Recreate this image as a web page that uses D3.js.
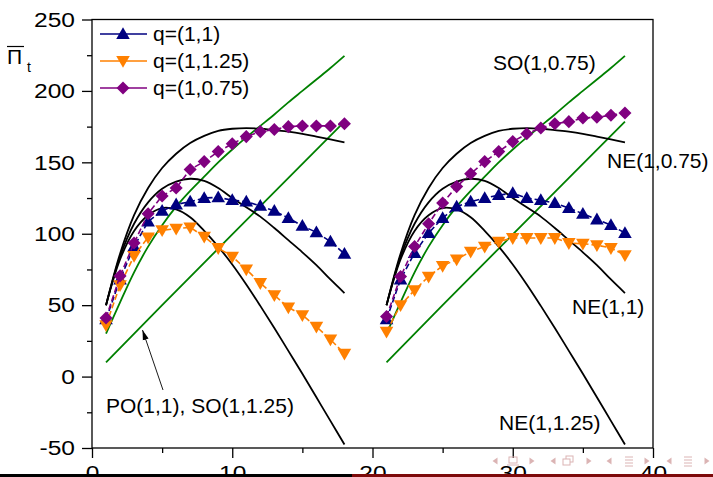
<!DOCTYPE html>
<html>
<head>
<meta charset="UTF-8">
<script src="https://cdn.jsdelivr.net/npm/d3@7"></script>
<style>
    body { margin: 0; background: #fff; }
    svg { display: block; font-family: "Liberation Sans", Arial, sans-serif; }
</style>
</head>
<body>
<div id="chart"></div>
<script>
    // periods of the two games
    var periodsA = [1, 2, 3, 4, 5, 6, 7, 8, 9, 10, 11, 12, 13, 14, 15, 16, 17, 18];
    var periodsB = [21, 22, 23, 24, 25, 26, 27, 28, 29, 30, 31, 32, 33, 34, 35, 36, 37, 38];

    // simulated profits
    var q11A   = [40, 68, 91, 108.5, 116, 120.5, 122.5, 125, 125.5, 123.5, 122.5, 119.5, 116, 111, 105.5, 101, 94.5, 86];
    var q11B   = [40, 68, 86.5, 100.5, 111, 119, 122.5, 125, 127, 128.5, 125, 123.5, 121.5, 118, 114, 110, 106, 100.5];
    var q125A  = [36, 64, 84.5, 97.5, 102.5, 103.5, 104.5, 98, 90, 84, 75, 65.5, 57, 48.5, 43, 35, 26, 16];
    var q125B  = [31.5, 50, 60.5, 70, 77.5, 82, 87.5, 91, 94.5, 97, 97, 97, 97, 93.5, 93, 92, 90, 85];
    var q075A  = [41, 70.5, 93.5, 114, 126.5, 132, 145, 150.5, 157.5, 163, 168, 171.5, 173, 175, 175.5, 175.5, 175.5, 177];
    var q075B  = [42, 70, 91, 107, 121.5, 133, 142, 150.5, 157.5, 164.5, 170, 174, 177, 178.5, 181, 181.5, 183, 184.5];

    // theoretical paths (same in both games)
    var ne075 = [50, 86, 113, 132, 146, 156, 163.5, 168.5, 172, 173.5, 174, 173.5, 172.5, 171.5, 170, 168, 166, 164];
    var ne1   = [50, 84, 107, 122, 131.5, 136.5, 138.5, 137, 132, 125, 118.5, 112, 104, 95.5, 87, 78, 68, 58.5];
    var ne125 = [50, 82, 102, 113, 118, 117, 111.5, 102, 91, 78.5, 64.5, 49.5, 34, 18, 2, -14.5, -31, -47.5];
    var so075 = [30, 52, 73, 91, 106, 119, 130, 140, 150, 159, 167.5, 175.5, 183.5, 192, 200, 208, 216, 224.5];
    var poPeriods = [1, 5, 10, 15, 18];
    var po11  = [10, 50, 99.5, 149, 178.5];

    var yTicks = [-50, 0, 50, 100, 150, 200, 250];
    var yMinorTicks = [-25, 25, 75, 125, 175, 225];
    var xTicks = [0, 10, 20, 30, 40];
    var xMinorTicks = [5, 15, 25, 35];

    var legendNames = ["q=(1,1)", "q=(1,1.25)", "q=(1,0.75)"];
    var navy = "#000080", orange = "#ff8000", purple = "#800080", green = "#008000";

    var width = 713, height = 477;
    var x = d3.scaleLinear().domain([0, 40]).range([92, 653]);
    var y = d3.scaleLinear().domain([-50, 250]).range([448, 19.5]);
    var stretch = 1.17;

    var svg = d3.select("#chart").append("svg")
        .attr("width", width).attr("height", height);

    svg.append("defs").append("marker")
        .attr("id", "arrowhead")
        .attr("viewBox", "0 -4 10 8")
        .attr("refX", 10).attr("refY", 0)
        .attr("markerWidth", 10).attr("markerHeight", 8)
        .attr("markerUnits", "userSpaceOnUse")
        .attr("orient", "auto")
        .append("path").attr("d", "M0,-3L10,0L0,3Z").attr("fill", "#000");

    // axes
    function styleAxis(g) {
        g.select(".domain").remove();
        g.selectAll("line").attr("stroke", "#000").attr("stroke-width", 1.3);
        g.selectAll("text").attr("font-size", 21).attr("fill", "#000")
            .attr("font-family", "Liberation Sans, Arial, sans-serif");
    }
    var plain = function (d) { return String(d); };

    svg.append("g").attr("transform", "translate(92,0)")
        .call(d3.axisLeft(y).tickValues(yMinorTicks).tickSize(5).tickFormat(""))
        .call(styleAxis);
    svg.append("g").attr("transform", "translate(92,0)")
        .call(d3.axisLeft(y).tickValues(yTicks).tickSize(10).tickPadding(7).tickFormat(plain))
        .call(styleAxis)
        .selectAll("text")
        .attr("x", -17 / stretch)
        .attr("transform", "scale(" + stretch + ",1)");

    svg.append("g").attr("transform", "translate(0,448)")
        .call(d3.axisBottom(x).tickValues(xMinorTicks).tickSize(5).tickFormat(""))
        .call(styleAxis);
    svg.append("g").attr("transform", "translate(0,448)")
        .call(d3.axisBottom(x).tickValues(xTicks).tickSize(10).tickPadding(7).tickFormat(plain))
        .call(styleAxis)
        .selectAll("text")
        .attr("transform", "scale(" + stretch + ",1)");

    svg.append("rect")
        .attr("x", x(0)).attr("y", y(250))
        .attr("width", x(40) - x(0)).attr("height", y(-50) - y(250))
        .attr("fill", "none").attr("stroke", "#000").attr("stroke-width", 1.3);

    function pairs(ts, vs, shift) {
        return ts.map(function (t, i) { return [t + (shift || 0), vs[i]]; });
    }
    var straight = d3.line().x(function (d) { return x(d[0]); }).y(function (d) { return y(d[1]); });
    var smooth = d3.line().curve(d3.curveCatmullRom.alpha(0.5))
        .x(function (d) { return x(d[0]); }).y(function (d) { return y(d[1]); });

    // theory curves, drawn for both games
    [0, 20].forEach(function (shift) {
        svg.append("path").attr("d", smooth(pairs(periodsA, so075, shift)))
            .attr("fill", "none").attr("stroke", green).attr("stroke-width", 1.8);
        svg.append("path").attr("d", straight(pairs(poPeriods, po11, shift)))
            .attr("fill", "none").attr("stroke", green).attr("stroke-width", 1.8);
        [ne075, ne1, ne125].forEach(function (vals) {
            svg.append("path").attr("d", smooth(pairs(periodsA, vals, shift)))
                .attr("fill", "none").attr("stroke", "#000").attr("stroke-width", 1.8);
        });
    });

    var triUp = d3.symbol().type(d3.symbolTriangle).size(80);
    var square = d3.symbol().type(d3.symbolSquare).size(85);

    var series = [
        { color: navy, a: q11A, b: q11B, shape: triUp, rot: 0, dy: 1 },
        { color: orange, a: q125A, b: q125B, shape: triUp, rot: 180, dy: -1 },
        { color: purple, a: q075A, b: q075B, shape: square, rot: 45, dy: 0 }
    ];

    series.forEach(function (s) {
        [pairs(periodsA, s.a), pairs(periodsB, s.b)].forEach(function (pts) {
            svg.append("path").attr("d", straight(pts))
                .attr("fill", "none").attr("stroke", s.color)
                .attr("stroke-width", 1.6).attr("stroke-dasharray", "6,3");
            svg.selectAll(null).data(pts).enter().append("path")
                .attr("d", s.shape())
                .attr("fill", s.color)
                .attr("transform", function (d) {
                    return "translate(" + x(d[0]) + "," + (y(d[1]) + s.dy) + ") rotate(" + s.rot + ")";
                });
        });
    });

    // legend
    var legend = svg.append("g");
    series.forEach(function (s, i) {
        var ly = 34 + i * 27;
        legend.append("line").attr("x1", 100).attr("x2", 147).attr("y1", ly).attr("y2", ly)
            .attr("stroke", s.color).attr("stroke-width", 1.6);
        legend.append("path").attr("d", s.shape()).attr("fill", s.color)
            .attr("transform", "translate(123," + (ly + s.dy) + ") rotate(" + s.rot + ")");
        legend.append("text").attr("x", 153).attr("y", ly).attr("dy", "0.35em")
            .attr("font-size", 21).text(legendNames[i]);
    });

    // y label: mean profit
    svg.append("text").attr("x", 7).attr("y", 64).attr("font-size", 21).text("\u03A0");
    svg.append("line").attr("x1", 7).attr("x2", 24).attr("y1", 46.5).attr("y2", 46.5)
        .attr("stroke", "#000").attr("stroke-width", 1.2);
    svg.append("text").attr("x", 27).attr("y", 72).attr("font-size", 14).text("t");

    // annotations
    var notes = [
        { text: "SO(1,0.75)", x: 493, y: 70 },
        { text: "NE(1,0.75)", x: 607, y: 168 },
        { text: "NE(1,1)", x: 572, y: 314 },
        { text: "NE(1,1.25)", x: 499, y: 430 },
        { text: "PO(1,1), SO(1,1.25)", x: 106, y: 413 }
    ];
    svg.selectAll(".note").data(notes).enter().append("text")
        .attr("class", "note")
        .attr("x", function (d) { return d.x; }).attr("y", function (d) { return d.y; })
        .attr("font-size", 21).text(function (d) { return d.text; });

    svg.append("line").attr("x1", 163).attr("y1", 390).attr("x2", 142.5).attr("y2", 330)
        .attr("stroke", "#000").attr("stroke-width", 0.9).attr("marker-end", "url(#arrowhead)");

    // slide footer + navigation symbols
    svg.append("rect").attr("x", 0).attr("y", 474).attr("width", 352).attr("height", 3).attr("fill", "#000");
    svg.append("rect").attr("x", 352).attr("y", 474).attr("width", 361).attr("height", 3).attr("fill", "#7d0a0a");

    var nav = svg.append("g").attr("fill", "#dbb4b4").attr("stroke", "#dbb4b4");
    var navY = 461;
    [[495, -1], [532, 1], [553, -1], [589, 1], [609, -1], [647, 1], [669, -1], [707, 1]].forEach(function (p) {
        nav.append("path").attr("stroke", "none")
            .attr("d", "M" + (p[0] - 2.5 * p[1]) + "," + (navY - 3.5) + "L" + (p[0] + 2.5 * p[1]) + "," + navY +
                "L" + (p[0] - 2.5 * p[1]) + "," + (navY + 3.5) + "Z");
    });
    nav.append("rect").attr("x", 509).attr("y", navY - 4).attr("width", 8).attr("height", 6).attr("fill", "none");
    nav.append("line").attr("x1", 507).attr("x2", 519).attr("y1", navY + 4).attr("y2", navY + 4);
    nav.append("rect").attr("x", 566).attr("y", navY - 5).attr("width", 7).attr("height", 6).attr("fill", "none");
    nav.append("rect").attr("x", 563).attr("y", navY - 2).attr("width", 7).attr("height", 6).attr("fill", "#fff");
    [629, 688].forEach(function (cx) {
        [-4, -1, 2, 5].forEach(function (dy) {
            nav.append("line").attr("x1", cx - 4).attr("x2", cx + 4).attr("y1", navY + dy).attr("y2", navY + dy)
                .attr("stroke-width", 1);
        });
    });
</script>
</body>
</html>
